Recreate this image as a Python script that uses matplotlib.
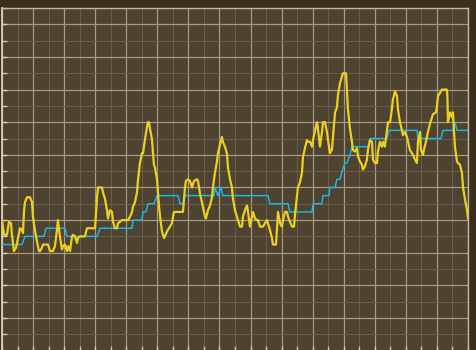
import numpy as np
import matplotlib
matplotlib.use("Agg")
import matplotlib.pyplot as plt
from matplotlib.ticker import MultipleLocator, NullFormatter

# yellow series (noisy)
yel_x = [0.0, 1.3, 3.2, 4.5, 5.8, 6.4, 7.7, 9.0, 9.7, 10.3, 11.6, 12.9, 13.5, 14.2, 14.8, 16.1, 18.0, 19.3, 19.9, 21.2,
         22.5, 23.8, 24.5, 25.7, 26.4, 29.6, 30.9, 32.8, 34.1, 35.4, 36.0, 37.3, 38.6, 39.3, 40.6, 41.8, 42.5, 43.8, 45.1, 45.7,
         47.0, 48.3, 48.9, 50.2, 53.4, 54.7, 59.9, 61.2, 61.8, 64.4, 65.0, 66.3, 67.6, 68.2, 69.5, 70.8, 71.5, 72.7, 74.0, 74.7,
         77.2, 81.1, 82.4, 83.7, 84.3, 85.6, 86.9, 87.5, 88.8, 90.1, 90.8, 92.0, 93.3, 94.0, 94.6, 95.3, 96.6, 97.2, 97.8, 98.5,
         99.8, 100.4, 101.1, 102.3, 103.0, 104.3, 104.9, 106.2, 108.1, 109.4, 110.7, 112.0, 116.5, 117.8, 118.4, 119.7, 121.0, 122.3, 123.6, 125.5,
         126.2, 127.5, 128.7, 129.4, 130.7, 131.3, 132.6, 133.9, 135.2, 135.8, 137.1, 138.4, 139.0, 140.3, 141.6, 142.2, 143.5, 144.8, 145.5, 146.8,
         148.0, 148.7, 150.0, 151.3, 151.9, 153.2, 154.5, 155.1, 156.4, 157.7, 158.4, 159.6, 160.9, 161.6, 162.9, 164.1, 164.8, 166.1, 168.0, 169.3,
         170.6, 171.2, 172.5, 173.8, 174.4, 176.4, 177.0, 177.7, 179.0, 180.2, 180.9, 182.2, 183.5, 184.1, 185.4, 186.7, 188.0, 188.6, 189.9, 190.5,
         191.8, 193.1, 193.8, 195.0, 196.3, 196.9, 198.3, 199.6, 200.2, 201.5, 202.8, 203.4, 204.7, 206.0, 206.6, 207.9, 209.2, 209.9, 211.1, 212.4,
         213.1, 214.4, 215.6, 216.3, 217.6, 218.9, 219.5, 221.5, 222.1, 222.7, 224.0, 225.3, 225.9, 227.2, 228.5, 229.2, 230.4, 231.7, 232.4, 233.7,
         234.9, 235.6, 236.9, 238.2, 238.8, 240.1, 241.4, 242.0, 243.3, 244.6, 245.3, 246.5, 247.8, 248.5, 249.8, 251.0, 251.7, 253.0, 254.3, 254.9,
         256.2, 257.5, 258.1, 259.4, 260.7, 261.4, 262.6, 263.9, 264.6, 265.9, 267.1, 267.8, 269.1, 269.7, 271.0, 271.6, 272.9, 274.2, 275.5, 276.8,
         277.5, 279.4, 280.0, 280.7, 282.0, 283.2, 286.4, 286.7, 287.1, 288.4, 289.7, 290.3, 291.0, 291.6, 292.9, 293.5, 294.8, 296.1, 296.8, 298.0,
         299.4, 300.0]
yel_y = [80, 71, 71, 79, 78, 71, 61, 63, 66, 69, 75, 74, 72, 86, 91, 94, 94, 91, 82, 74,
         67, 61, 61, 63, 65, 65, 61, 61, 64, 74, 80, 70, 62, 64, 65, 61, 64, 61, 70, 71,
         70, 66, 69, 70, 70, 75, 75, 94, 100, 100, 97, 93, 86, 81, 86, 85, 79, 75, 75, 78,
         80, 80, 82, 85, 88, 91, 97, 104, 115, 121, 121, 129, 137, 140, 140, 136, 129, 121, 114, 112,
         105, 97, 88, 78, 73, 69, 70, 73, 76, 78, 85, 85, 85, 100, 104, 105, 104, 100, 104, 105,
         104, 96, 91, 88, 82, 81, 86, 89, 94, 100, 109, 116, 121, 126, 131, 128, 125, 121, 112, 105,
         100, 93, 86, 82, 80, 76, 76, 82, 86, 89, 85, 76, 82, 85, 81, 80, 80, 76, 76, 78,
         80, 78, 74, 69, 65, 65, 74, 85, 78, 76, 80, 85, 85, 82, 79, 76, 76, 83, 95, 100,
         103, 109, 119, 124, 129, 128, 128, 125, 129, 135, 140, 136, 125, 134, 140, 140, 134, 129, 121, 123,
         131, 146, 149, 157, 164, 168, 170, 170, 159, 148, 136, 128, 123, 122, 124, 119, 116, 114, 111, 113,
         117, 123, 129, 128, 117, 115, 115, 122, 128, 125, 128, 125, 135, 140, 140, 148, 154, 159, 156, 148,
         140, 135, 132, 134, 131, 128, 123, 121, 120, 117, 115, 128, 134, 123, 120, 123, 128, 134, 139, 143,
         145, 146, 150, 156, 158, 160, 160, 156, 140, 146, 143, 146, 135, 125, 116, 115, 114, 109, 100, 93,
         86, 81]

# cyan series (stepped average)
cyan_x = [0.0, 12.9, 14.8, 26.4, 27.0, 28.3, 40.6, 41.8, 61.2, 63.1, 83.7, 84.3, 90.1, 90.8, 92.7, 94.0, 97.8, 99.8,
          113.3, 114.6, 116.5, 117.8, 136.5, 137.1, 139.0, 141.0, 142.2, 171.2, 172.5, 184.1, 185.4, 199.6, 200.2,
          206.0, 206.6, 210.5, 211.1, 214.4, 215.6, 217.6, 218.9, 220.8, 222.1, 224.0, 225.3, 235.6, 236.9, 247.8,
          249.1, 267.1, 267.8, 282.6, 283.9, 290.3, 291.6, 292.9, 300.0]
cyan_y = [65, 65, 70, 70, 70, 75, 75, 70, 70, 75, 75, 80, 80, 85, 85, 90, 90, 95,
          95, 90, 90, 95, 95, 100, 95, 100, 95, 95, 90, 90, 85, 85, 90,
          90, 95, 95, 100, 100, 105, 105, 110, 115, 115, 120, 125, 125, 130, 130,
          135, 135, 130, 130, 135, 135, 140, 135, 135]

fig = plt.figure(figsize=(4.77, 3.5), dpi=100, facecolor="#3a2e1c")
ax = fig.add_axes([2/477, -0.6/350, 466/477, 342.6/350])
ax.set_facecolor("#4e4230")

ax.plot(cyan_x, cyan_y, color="#19b6e6", lw=1.1, zorder=3)
ax.plot(yel_x, yel_y, color="#ecd021", lw=1.6, zorder=4)

ax.set_xlim(0, 300)
ax.set_ylim(0, 210)
ax.xaxis.set_major_locator(MultipleLocator(20))
ax.xaxis.set_minor_locator(MultipleLocator(10))
ax.yaxis.set_major_locator(MultipleLocator(20))
ax.yaxis.set_minor_locator(MultipleLocator(10))
ax.xaxis.set_major_formatter(NullFormatter())
ax.yaxis.set_major_formatter(NullFormatter())
ax.grid(which="major", color="#a89b84", lw=0.9)
ax.grid(which="minor", color="#6b5e48", lw=0.7)
ax.set_axisbelow(True)
ax.tick_params(which="both", direction="in", length=3.5, color="#d6ccb4", width=1)
for s in ax.spines.values():
    s.set_color("#c4b9a2")
    s.set_linewidth(1)
ax.spines["left"].set_color("#ddd3bc")
ax.spines["left"].set_linewidth(1.3)

fig.savefig("out.png", dpi=100, facecolor=fig.get_facecolor())
